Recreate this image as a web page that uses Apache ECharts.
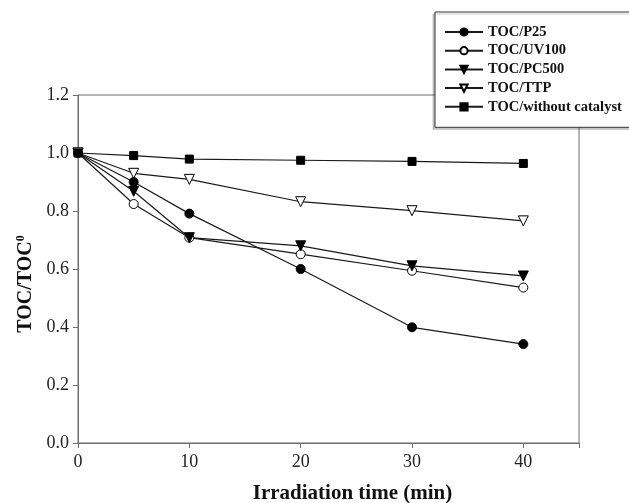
<!DOCTYPE html>
<html>
<head>
<meta charset="utf-8">
<script src="https://cdn.jsdelivr.net/npm/echarts@6/dist/echarts.min.js"></script>
<style>
  body { margin: 0; background: #fff; }
  #chart { width: 629px; height: 503px; }
</style>
</head>
<body>
<div id="chart"></div>
<script>
const times = [0, 5, 10, 20, 30, 40];
const p25 = [1.0, 0.900, 0.791, 0.600, 0.399, 0.341];
const uv100 = [1.0, 0.824, 0.708, 0.651, 0.594, 0.536];
const pc500 = [1.0, 0.868, 0.708, 0.680, 0.611, 0.576];
const ttp = [1.0, 0.930, 0.909, 0.832, 0.801, 0.766];
const noCat = [1.0, 0.991, 0.979, 0.975, 0.971, 0.964];
const yTicks = ['0.0', '0.2', '0.4', '0.6', '0.8', '1.0', '1.2'];

const serif = '"Liberation Serif", "Times New Roman", serif';
const axisGray = '#6e6e6e';

// 每条曲线的样式
const styles = [
  { name: 'TOC/P25', data: p25, symbol: 'circle', size: 9, fill: '#000', rotate: 0 },
  { name: 'TOC/UV100', data: uv100, symbol: 'circle', size: 9, fill: '#fff', rotate: 0 },
  { name: 'TOC/PC500', data: pc500, symbol: 'triangle', size: 10, fill: '#000', rotate: 180 },
  { name: 'TOC/TTP', data: ttp, symbol: 'triangle', size: 10, fill: '#fff', rotate: 180 },
  { name: 'TOC/without catalyst', data: noCat, symbol: 'rect', size: 8, fill: '#000', rotate: 0 }
];

const chart = echarts.init(document.getElementById('chart'));
chart.setOption({
  backgroundColor: '#fff',
  animation: false,
  grid: {
    left: 78, right: 50, top: 95, bottom: 60,
    outerBoundsMode: 'none',
    show: true, borderColor: axisGray, borderWidth: 1
  },
  legend: {
    left: 435, top: 12,
    orient: 'vertical',
    padding: [12.5, 10, 13, 9],
    itemWidth: 38, itemHeight: 9, itemGap: 3.7,
    backgroundColor: '#fff',
    borderColor: '#333', borderWidth: 1,
    shadowColor: 'rgba(0,0,0,0.2)', shadowOffsetX: -2, shadowOffsetY: 2,
    textStyle: { fontFamily: serif, fontWeight: 'bold', fontSize: 14.5, color: '#111' },
    data: styles.map(s => s.name)
  },
  xAxis: {
    type: 'value',
    min: 0, max: 45, interval: 10,
    axisLine: { lineStyle: { color: axisGray } },
    axisTick: { length: 5, lineStyle: { color: axisGray } },
    splitLine: { show: false },
    axisLabel: {
      fontFamily: serif, fontSize: 18, color: '#222', margin: 10,
      formatter: v => (v > 40 ? '' : String(v))
    },
    name: 'Irradiation time (min)',
    nameLocation: 'middle',
    nameGap: 40,
    nameTextStyle: { fontFamily: serif, fontWeight: 'bold', fontSize: 21, color: '#111', padding: [0, 0, 0, 48] }
  },
  yAxis: {
    type: 'value',
    min: 0, max: 1.2, interval: 0.2,
    axisLine: { lineStyle: { color: axisGray } },
    axisTick: { length: 5, lineStyle: { color: axisGray } },
    splitLine: { show: false },
    axisLabel: {
      fontFamily: serif, fontSize: 18, color: '#222', margin: 9,
      formatter: v => yTicks[Math.round(v / 0.2)]
    },
    name: 'TOC/TOC{sup|0}',
    nameLocation: 'middle',
    nameGap: 39,
    nameTextStyle: {
      fontFamily: serif, fontWeight: 'bold', fontSize: 20, color: '#111', padding: [0, 30, 0, 0],
      rich: { sup: { fontFamily: serif, fontWeight: 'bold', fontSize: 12, color: '#111', verticalAlign: 'top', padding: [0, 0, 9, 0] } }
    }
  },
  series: styles.map(s => ({
    name: s.name,
    type: 'line',
    data: times.map((t, i) => [t, s.data[i]]),
    symbol: s.symbol,
    symbolSize: s.size,
    symbolRotate: s.rotate,
    showAllSymbol: true,
    lineStyle: { color: '#1a1a1a', width: 1.2 },
    itemStyle: { color: s.fill, borderColor: '#000', borderWidth: 1 }
  }))
});
</script>
</body>
</html>
